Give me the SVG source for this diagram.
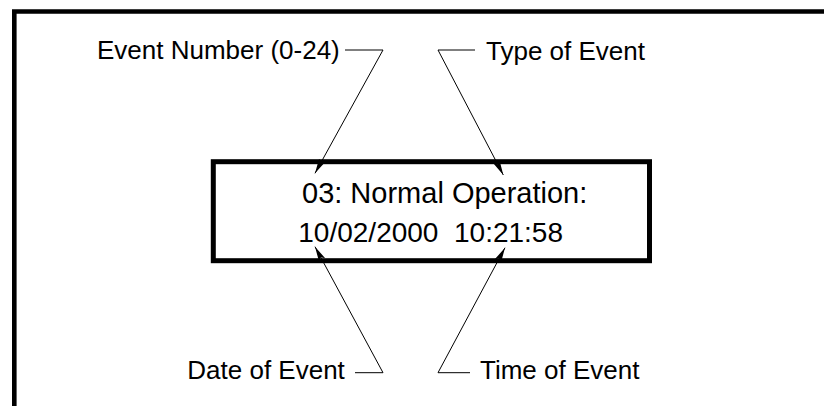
<svg xmlns="http://www.w3.org/2000/svg" width="824" height="406" viewBox="0 0 824 406">
<defs>
<style>
.lbl{font-family:"Liberation Sans",Arial,sans-serif;font-size:26px;fill:#000}
.disp{font-family:"Liberation Sans",Arial,sans-serif;fill:#000}
.conn{fill:none;stroke:#000;stroke-width:1}
</style>
<marker id="ah" markerUnits="userSpaceOnUse" markerWidth="16" markerHeight="8" refX="15" refY="3.5" orient="auto">
<path d="M0,0 L15,3.5 L0,7 L3,3.5 z" fill="#000"/>
</marker>
</defs>
<rect width="824" height="406" fill="#fff"/>
<path d="M14.3,406 V11.5 H830" fill="none" stroke="#000" stroke-width="4.6" stroke-linejoin="miter"/>
<g id="display">
<rect x="213.3" y="161.7" width="436.2" height="99" fill="none" stroke="#000" stroke-width="5"/>
<text class="disp" x="302" y="202.5" font-size="29">03: Normal Operation:</text>
<text class="disp" x="298.3" y="241.7" font-size="28" xml:space="preserve">10/02/2000  10:21:58</text>
</g>
<g id="label-event-number"><text class="lbl" x="97" y="59.3">Event Number (0-24)</text></g>
<g id="label-type"><text class="lbl" x="486" y="59.5">Type of Event</text></g>
<g id="label-date"><text class="lbl" x="187.3" y="379">Date of Event</text></g>
<g id="label-time"><text class="lbl" x="480" y="379">Time of Event</text></g>
<g id="connectors">
<path class="conn" d="M345,50 L383,50 L315,173.3" marker-end="url(#ah)"/>
<path class="conn" d="M475,50 L438,50 L503.3,175" marker-end="url(#ah)"/>
<path class="conn" d="M355,372.7 L383,372.7 L315,246.7" marker-end="url(#ah)"/>
<path class="conn" d="M470,372.7 L438,372.7 L505,247.7" marker-end="url(#ah)"/>
</g>
</svg>
